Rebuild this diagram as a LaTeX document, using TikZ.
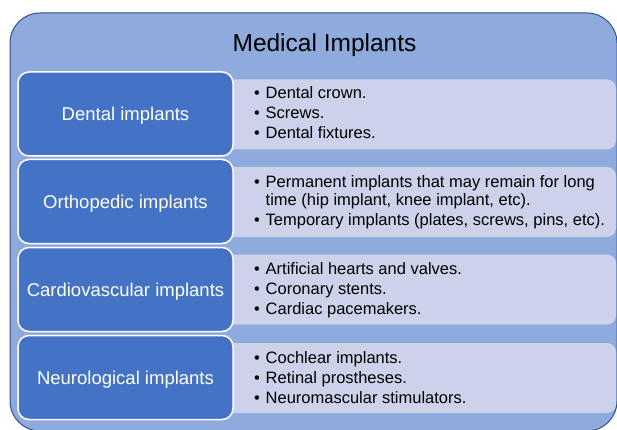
\documentclass[tikz,border=0pt]{standalone}
\usepackage{fontspec}
\setmainfont{Liberation Sans}
\definecolor{outerfill}{RGB}{143,170,220}
\definecolor{outerline}{RGB}{47,82,143}
\definecolor{catfill}{RGB}{68,114,196}
\definecolor{listfill}{RGB}{203,210,234}
\newcommand{\bitem}[1]{\par\hangindent=11.5pt\hangafter=1\noindent\hbox to 11.5pt{•\hfil}#1\par}
\newcommand{\blist}[1]{\parbox[t]{360pt}{\fontsize{16.5}{18}\selectfont\parskip=2pt\raggedright #1}}
\tikzset{
  outerbox/.style={draw=outerline, line width=1pt, fill=outerfill, rounded corners=30pt},
  catbox/.style={draw=white, line width=1.5pt, fill=catfill, rounded corners=11pt,
    minimum width=215pt, minimum height=84pt, inner sep=0pt, text=white,
    font=\fontsize{18.5}{22}\selectfont, text depth=0pt},
  listbox/.style={fill=listfill, rounded corners=9pt, minimum width=391pt,
    minimum height=70pt, inner sep=0pt},
  listtext/.style={anchor=base west, inner sep=0pt, text=black},
  titletext/.style={anchor=base, inner sep=0pt, font=\fontsize{24.5}{28}\selectfont}
}
\begin{document}
\begin{tikzpicture}[x=1pt,y=-1pt]
\useasboundingbox (0,0) rectangle (617,430);
\begin{scope}
\clip (0,0) rectangle (617,430);
\draw[outerbox] (10,13) rectangle (617,431);
\end{scope}
\node[titletext] (title) at (324.5,52) {Medical Implants};
% list boxes
\node[listbox] (dentalL) at (420.5,114.5) {};
\node[listbox] (orthoL) at (420.5,202) {};
\node[listbox] (cardioL) at (420.5,289.5) {};
\node[listbox] (neuroL) at (420.5,378) {};
% category boxes
\node[catbox] (dental) at (125.5,114) {Dental implants};
\node[catbox] (ortho) at (125.5,201.5) {Orthopedic implants};
\node[catbox] (cardio) at (125.5,289.5) {Cardiovascular implants};
\node[catbox] (neuro) at (125.5,377.5) {Neurological implants};
% list texts
\node[listtext] (dentalT) at (254,99) {\blist{\bitem{Dental crown.}\bitem{Screws.}\bitem{Dental fixtures.}}};
\node[listtext] (orthoT) at (254,187) {\blist{\bitem{Permanent implants that may remain for long\newline time (hip implant, knee implant, etc).}\bitem{Temporary implants (plates, screws, pins, etc).}}};
\node[listtext] (cardioT) at (254,274.5) {\blist{\bitem{Artificial hearts and valves.}\bitem{Coronary stents.}\bitem{Cardiac pacemakers.}}};
\node[listtext] (neuroT) at (254,363) {\blist{\bitem{Cochlear implants.}\bitem{Retinal prostheses.}\bitem{Neuromascular stimulators.}}};
\end{tikzpicture}
\end{document}
